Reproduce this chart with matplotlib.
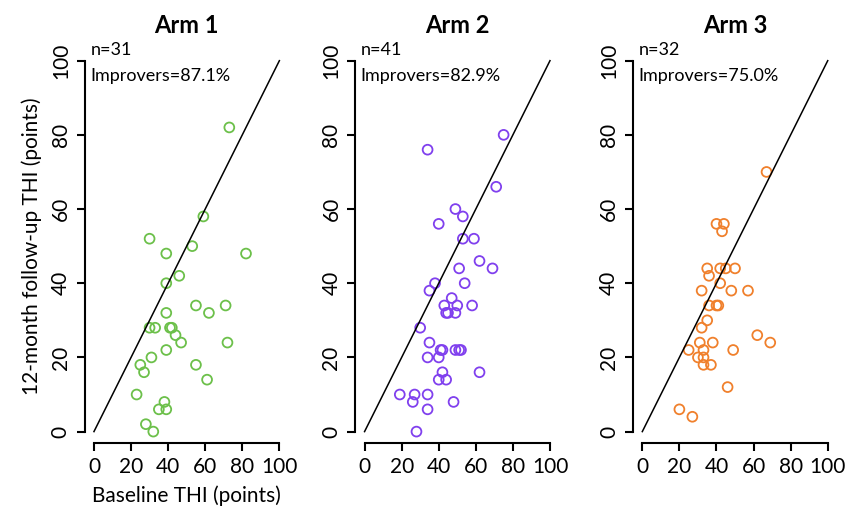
import matplotlib
matplotlib.use("Agg")
import matplotlib.pyplot as plt

plt.rcParams['font.family'] = ['Lato', 'DejaVu Sans']

titles = ["Arm 1", "Arm 2", "Arm 3"]
n_labels = ["n=31", "n=41", "n=32"]
improvers = ["Improvers=87.1%", "Improvers=82.9%", "Improvers=75.0%"]
colors = ["#6cc04a", "#8040ee", "#f0802c"]

# baseline THI / 12-month THI per arm
arm1_x = [73, 59, 30, 39, 53, 82, 46, 39, 55, 71, 62, 39, 30, 33, 41, 42,
          44, 47, 72, 39, 31, 25, 55, 27, 61, 23, 38, 35, 39, 28, 32]
arm1_y = [82, 58, 52, 48, 50, 48, 42, 40, 34, 34, 32, 32, 28, 28, 28, 28,
          26, 24, 24, 22, 20, 18, 18, 16, 14, 10, 8, 6, 6, 2, 0]

arm2_x = [75, 34, 71, 49, 53, 40, 53, 59, 62, 51, 69, 38, 54, 35, 47, 43,
          50, 58, 44, 45, 49, 30, 35, 41, 42, 49, 51, 52, 34, 40, 42, 62,
          40, 44, 19, 27, 34, 26, 48, 34, 28]
arm2_y = [80, 76, 66, 60, 58, 56, 52, 52, 46, 44, 44, 40, 40, 38, 36, 34,
          34, 34, 32, 32, 32, 28, 24, 22, 22, 22, 22, 22, 20, 20, 16, 16,
          14, 14, 10, 10, 10, 8, 8, 6, 0]

arm3_x = [67, 40, 44, 43, 35, 42, 45, 50, 36, 42, 32, 48, 57, 36, 40, 41,
          35, 32, 62, 31, 38, 69, 25, 33, 49, 30, 33, 33, 37, 46, 20, 27]
arm3_y = [70, 56, 56, 54, 44, 44, 44, 44, 42, 40, 38, 38, 38, 34, 34, 34,
          30, 28, 26, 24, 24, 24, 22, 22, 22, 20, 20, 18, 18, 12, 6, 4]

xs = [arm1_x, arm2_x, arm3_x]
ys = [arm1_y, arm2_y, arm3_y]
ticks = [0, 20, 40, 60, 80, 100]

fig = plt.figure(figsize=(8.52, 5.16), dpi=100)
lefts = [0.0994, 0.417, 0.743]

for i in range(3):
    ax = fig.add_axes([lefts[i], 0.142, 0.2394, 0.762])
    ax.plot([0, 100], [0, 100], color='black', lw=1.1)
    ax.scatter(xs[i], ys[i], s=50, facecolors='none', edgecolors=colors[i], linewidths=1.3)
    ax.set_xlim(-5, 105)
    ax.set_ylim(-3, 103)
    ax.set_xticks(ticks)
    ax.set_yticks(ticks)
    ax.set_xticklabels([str(t) for t in ticks], fontsize=15)
    ax.set_yticklabels([str(t) for t in ticks], fontsize=15, rotation=90, va='center')
    for s in ['top', 'right']:
        ax.spines[s].set_visible(False)
    ax.spines['left'].set_bounds(0, 100)
    ax.spines['bottom'].set_bounds(0, 100)
    ax.spines['left'].set_linewidth(1.5)
    ax.spines['bottom'].set_linewidth(1.5)
    ax.tick_params(length=6, width=1.5, pad=4)
    ax.set_title(titles[i], fontsize=17, fontweight='bold', pad=12)
    ax.text(-2, 103, n_labels[i], fontsize=13, va='center')
    ax.text(-2, 96, improvers[i], fontsize=13, va='center')
    if i == 0:
        ax.set_ylabel("12-month follow-up THI (points)", fontsize=15, labelpad=6)
        ax.set_xlabel("Baseline THI (points)", fontsize=15, labelpad=6)

fig.savefig("out.png", dpi=100)
